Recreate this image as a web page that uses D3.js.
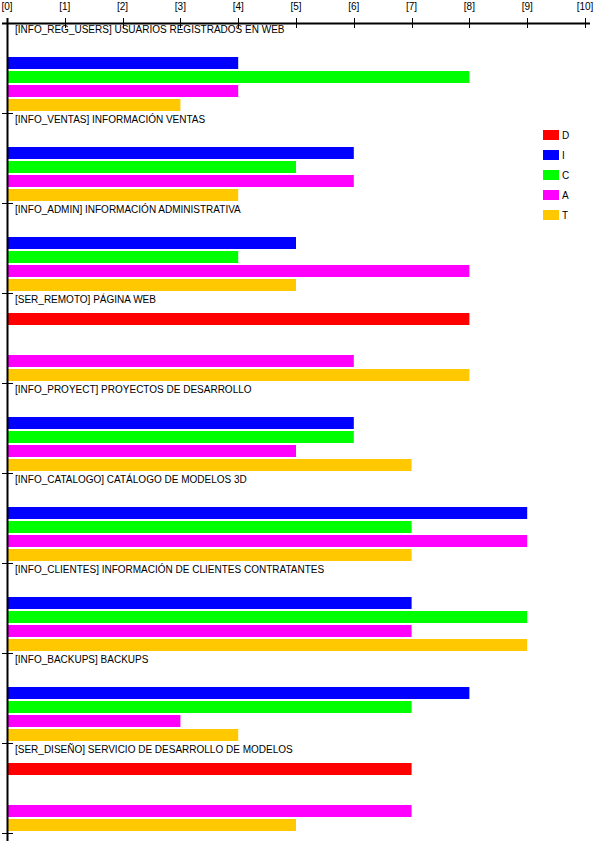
<!DOCTYPE html>
<html>
<head>
<meta charset="utf-8">
<script src="https://cdn.jsdelivr.net/npm/d3@7"></script>
<style>
  html, body { margin: 0; padding: 0; background: #fff; }
  svg { display: block; }
  text { font-family: "Liberation Sans", Arial, sans-serif; font-size: 10px; fill: #000; }
</style>
</head>
<body>
<svg id="chart" width="597" height="841"></svg>
<script>
const categories = [
  "[INFO_REG_USERS] USUARIOS REGISTRADOS EN WEB",
  "[INFO_VENTAS] INFORMACIÓN VENTAS",
  "[INFO_ADMIN] INFORMACIÓN ADMINISTRATIVA",
  "[SER_REMOTO] PÁGINA WEB",
  "[INFO_PROYECT] PROYECTOS DE DESARROLLO",
  "[INFO_CATALOGO] CATÁLOGO DE MODELOS 3D",
  "[INFO_CLIENTES] INFORMACIÓN DE CLIENTES CONTRATANTES",
  "[INFO_BACKUPS] BACKUPS",
  "[SER_DISEÑO] SERVICIO DE DESARROLLO DE MODELOS"
];
const seriesNames = ["D", "I", "C", "A", "T"];
const seriesColors = ["#ff0000", "#0000ff", "#00ff00", "#ff00ff", "#ffc800"];
const valuesD = [0, 0, 0, 8, 0, 0, 0, 0, 7];
const valuesI = [4, 6, 5, 0, 6, 9, 7, 8, 0];
const valuesC = [8, 5, 4, 0, 6, 7, 9, 7, 0];
const valuesA = [4, 6, 8, 6, 5, 9, 7, 3, 7];
const valuesT = [3, 4, 5, 8, 7, 7, 9, 4, 5];
const tickValues = [0, 1, 2, 3, 4, 5, 6, 7, 8, 9, 10];
const tickLabels = tickValues.map(v => "[" + v + "]");

const seriesValues = [valuesD, valuesI, valuesC, valuesA, valuesT];

const svg = d3.select("#chart");

const x = d3.scaleLinear().domain([0, 10]).range([7, 585]);
const y0 = d3.scaleBand().domain(categories).range([23, 833]).padding(0);
const y1 = d3.scaleBand().domain(seriesNames).range([20, 88]).paddingInner(2 / 14).paddingOuter(0);
const color = d3.scaleOrdinal().domain(seriesNames).range(seriesColors);

// bars
const groups = svg.append("g").selectAll("g")
  .data(categories)
  .join("g")
  .attr("transform", d => `translate(0,${y0(d)})`);

groups.selectAll("rect")
  .data((d, gi) => seriesNames.map((s, si) => ({ s, v: seriesValues[si][gi] })).filter(e => e.v > 0))
  .join("rect")
  .attr("x", x(0))
  .attr("y", e => y1(e.s))
  .attr("width", e => x(e.v) - x(0))
  .attr("height", y1.bandwidth())
  .attr("fill", e => color(e.s));

// group labels
groups.append("text")
  .attr("x", 15)
  .attr("y", 10)
  .text(d => d);

// top axis
const axisG = svg.append("g");
axisG.append("line")
  .attr("x1", 2).attr("x2", 590)
  .attr("y1", 23.5).attr("y2", 23.5)
  .attr("stroke", "#000").attr("stroke-width", 2);
axisG.selectAll("line.tick")
  .data(tickValues)
  .join("line")
  .attr("class", "tick")
  .attr("x1", d => Math.round(x(d)) + 0.5).attr("x2", d => Math.round(x(d)) + 0.5)
  .attr("y1", 18).attr("y2", 28)
  .attr("stroke", "#000").attr("stroke-width", 1);
axisG.selectAll("text")
  .data(tickValues)
  .join("text")
  .attr("x", d => x(d))
  .attr("y", 10)
  .attr("text-anchor", "middle")
  .text((d, i) => tickLabels[i]);

// left axis
svg.append("line")
  .attr("x1", 7.5).attr("x2", 7.5)
  .attr("y1", 18).attr("y2", 841)
  .attr("stroke", "#000").attr("stroke-width", 2);
const boundaries = categories.map(c => y0(c)).concat([y0(categories[categories.length - 1]) + y0.step()]);
svg.append("g").selectAll("line")
  .data(boundaries.slice(1))
  .join("line")
  .attr("x1", 2).attr("x2", 13)
  .attr("y1", d => Math.round(d) + 0.5).attr("y2", d => Math.round(d) + 0.5)
  .attr("stroke", "#000").attr("stroke-width", 1);

// legend
const legend = svg.append("g").selectAll("g")
  .data(seriesNames)
  .join("g")
  .attr("transform", (d, i) => `translate(543,${130 + i * 20})`);
legend.append("rect")
  .attr("width", 16).attr("height", 10)
  .attr("fill", d => color(d));
legend.append("text")
  .attr("x", 19).attr("y", 8.5)
  .text(d => d);
</script>
</body>
</html>
